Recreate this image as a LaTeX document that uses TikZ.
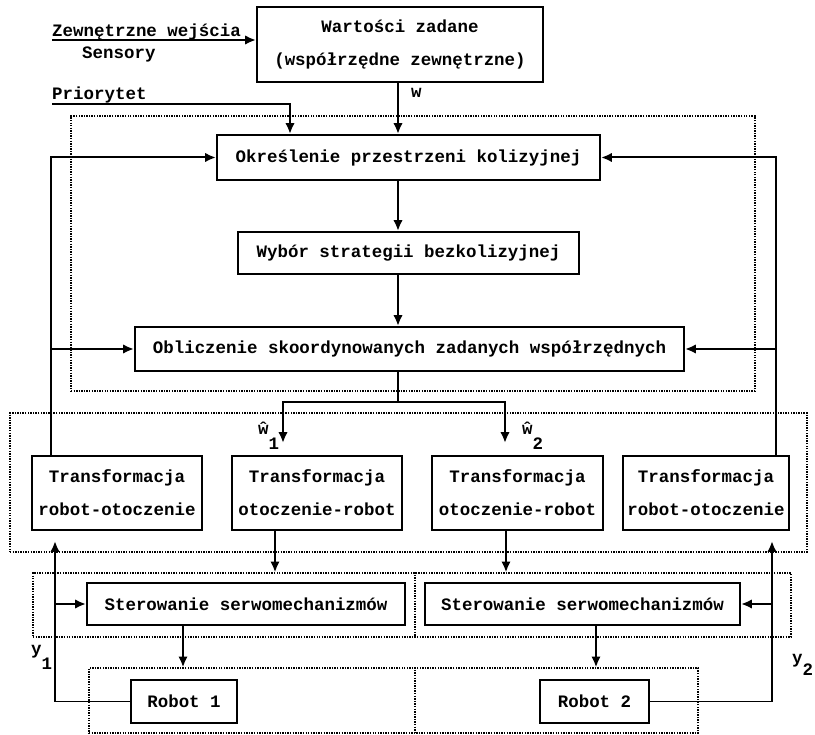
\documentclass[tikz,border=0pt]{standalone}
\usepackage{fontspec}
\setmainfont{Liberation Mono}
\usepackage{tikz}
\usetikzlibrary{arrows.meta}

\begin{document}
\begin{tikzpicture}[x=0.3mm,y=-0.3mm]
\tikzset{box/.style = {shape=rectangle,draw,line width=1.9pt,inner sep=0pt,align=center,
  font=\fontsize{14.9}{28}\selectfont\bfseries}}
\tikzset{frame/.style = {shape=rectangle,draw,densely dotted,line width=1.2pt,inner sep=0pt}}
\tikzset{txt/.style = {inner sep=0pt,font=\fontsize{14.9}{28}\selectfont\bfseries}}
\tikzset{edge/.style = {->,> = {Latex[length=3.2mm,width=2.8mm]},line width=1.7pt}}
\tikzset{link/.style = {-,line width=1.7pt}}
\useasboundingbox (0,0) rectangle (815,735);
% frames
\node[frame,minimum width=205.2mm,minimum height=82.5mm] (fkol) at (413,253.5) {};
\node[frame,minimum width=239.1mm,minimum height=41.7mm] (ftr) at (408.5,482.5) {};
\node[frame,minimum width=227.4mm,minimum height=19.2mm] (fst) at (412,605) {};
\node[frame,minimum width=182.7mm,minimum height=19.5mm] (frob) at (393.5,700.5) {};
\coordinate (dv) at (415,0);
\draw[frame] (fst.north -| dv) to (fst.south -| dv);
\draw[frame] (frob.north -| dv) to (frob.south -| dv);
% blocks
\node[box,minimum width=85.8mm,minimum height=22.5mm] (wart) at (400,44.5) {Wartości zadane\\(współrzędne zewnętrzne)};
\node[box,minimum width=114.9mm,minimum height=13.5mm] (okr) at (408.5,157.5) {Określenie przestrzeni kolizyjnej};
\node[box,minimum width=102.3mm,minimum height=12.6mm] (wyb) at (408.5,253) {Wybór strategii bezkolizyjnej};
\node[box,minimum width=164.7mm,minimum height=13.2mm] (obl) at (409.5,349) {Obliczenie skoordynowanych zadanych współrzędnych};
\node[box,minimum width=51mm,minimum height=22.2mm] (tr1) at (117,493) {Transformacja\\robot-otoczenie};
\node[box,minimum width=51mm,minimum height=22.2mm] (tr2) at (317,493) {Transformacja\\otoczenie-robot};
\node[box,minimum width=51.3mm,minimum height=22.2mm] (tr3) at (517.5,493) {Transformacja\\otoczenie-robot};
\node[box,minimum width=49.8mm,minimum height=22.2mm] (tr4) at (706,493) {Transformacja\\robot-otoczenie};
\node[box,minimum width=95.4mm,minimum height=12.6mm] (ster1) at (246,604) {Sterowanie serwomechanizmów};
\node[box,minimum width=94.5mm,minimum height=12.6mm] (ster2) at (582.5,604) {Sterowanie serwomechanizmów};
\node[box,minimum width=31.8mm,minimum height=12.9mm] (rob1) at (184,701.5) {Robot 1};
\node[box,minimum width=32.7mm,minimum height=12.9mm] (rob2) at (594.5,701.5) {Robot 2};
% labels
\node[txt,anchor=base west] (zw) at (52,37) {Zewnętrzne wejścia};
\node[txt,anchor=base west] (sen) at (82,59) {Sensory};
\node[txt,anchor=base west] (pr) at (52,100) {Priorytet};
\node[txt,anchor=base west] (wl) at (411,98) {w};
\node[txt,anchor=base west] (w1l) at (258,435) {ŵ\raisebox{-4.5mm}{1}};
\node[txt,anchor=base west] (w2l) at (522,435) {ŵ\raisebox{-4.5mm}{2}};
\node[txt,anchor=base west] (y1l) at (31,655) {y\raisebox{-4.5mm}{1}};
\node[txt,anchor=base west] (y2l) at (792,664) {y\raisebox{-3.5mm}{2}};
% helper coordinates
\coordinate (cx) at (398,0);
\coordinate (px) at (290,0);
\coordinate (lx) at (51,0);
\coordinate (rx) at (776,0);
\coordinate (sp) at (398,402);
\coordinate (w1x) at (283,0);
\coordinate (w2x) at (505,0);
\coordinate (d1x) at (275,0);
\coordinate (d2x) at (506,0);
\coordinate (r1x) at (183,0);
\coordinate (r2x) at (596,0);
\coordinate (y1x) at (55,0);
\coordinate (y2x) at (772,0);
% edges
\draw[edge] ([yshift=-0.9mm]zw.base west) to ([yshift=-0.9mm]zw.base west -| wart.west);
\draw[edge] ([yshift=-1.2mm]pr.base west) -| (px |- okr.north);
\draw[edge] (cx |- wart.south) to (cx |- okr.north);
\draw[edge] (cx |- okr.south) to (cx |- wyb.north);
\draw[edge] (cx |- wyb.south) to (cx |- obl.north);
\draw[link] (cx |- obl.south) to (sp);
\draw[edge,shorten >=3.6mm] (sp) -| (w1x |- tr2.north);
\draw[edge,shorten >=3.6mm] (sp) -| (w2x |- tr3.north);
\draw[edge] (tr1.north -| lx) |- (okr.west);
\draw[edge] (lx |- obl.west) to (obl.west);
\draw[edge] (tr4.north -| rx) |- (okr.east);
\draw[edge] (rx |- obl.east) to (obl.east);
\draw[edge] (d1x |- tr2.south) to (d1x |- fst.north);
\draw[edge] (d2x |- tr3.south) to (d2x |- fst.north);
\draw[edge] (r1x |- ster1.south) to (r1x |- frob.north);
\draw[edge] (r2x |- ster2.south) to (r2x |- frob.north);
\draw[edge,shorten >=3mm] (rob1.west) -| (y1x |- tr1.south);
\draw[edge] (y1x |- ster1.west) to (ster1.west);
\draw[edge,shorten >=3mm] (rob2.east) -| (y2x |- tr4.south);
\draw[edge] (y2x |- ster2.east) to (ster2.east);
\end{tikzpicture}
\end{document}
